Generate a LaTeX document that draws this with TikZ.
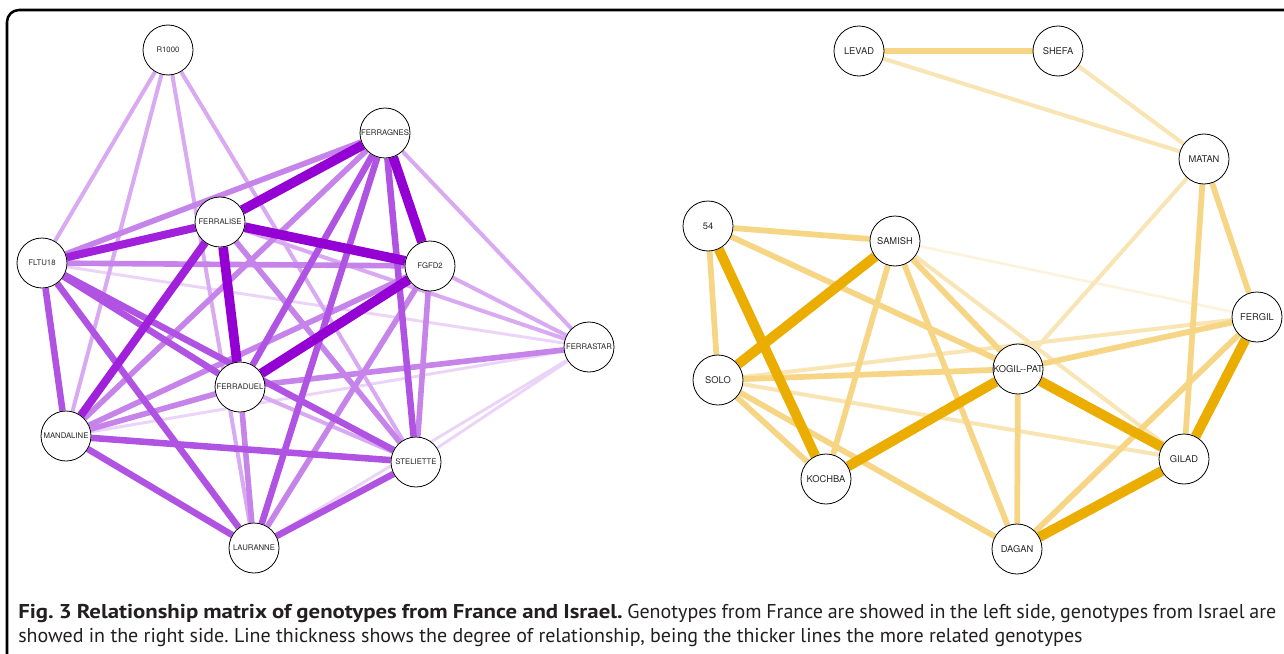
\documentclass[tikz,border=0pt]{standalone}
\usepackage{fontspec}
\setmainfont[BoldFeatures={FakeStretch=1.14}]{PT Sans}
\newfontfamily\genofont{TeX Gyre Heros}
\usetikzlibrary{backgrounds}
\definecolor{frA}{HTML}{9400D3}
\definecolor{frB}{HTML}{A020DC}
\definecolor{frC}{HTML}{B153E2}
\definecolor{frD}{HTML}{C683EA}
\definecolor{frE}{HTML}{D9AAF1}
\definecolor{frF}{HTML}{ECD3F8}
\definecolor{ilA}{HTML}{EBAD00}
\definecolor{ilB}{HTML}{F6D584}
\definecolor{ilC}{HTML}{F9E5B3}
\definecolor{ilD}{HTML}{FDF2DC}
\definecolor{captext}{HTML}{231F20}
\frenchspacing
\tikzset{
  geno/.style={circle,draw=black,line width=0.6pt,fill=white,minimum size=37.5pt,
    inner sep=0pt,text=black!85,font=\genofont\fontsize{5.8}{6}\selectfont},
  genoil/.style={geno,font=\genofont\fontsize{7}{7}\selectfont},
  lnA/.style={draw=frA,line width=7.2pt},
  lnB/.style={draw=frB,line width=6pt},
  lnC/.style={draw=frC,line width=4.9pt},
  lnD/.style={draw=frD,line width=4.2pt},
  lnE/.style={draw=frE,line width=3pt},
  lnF/.style={draw=frF,line width=2.2pt},
  lgA/.style={draw=ilA,line width=7.5pt},
  lgB/.style={draw=ilB,line width=4.3pt},
  lgC/.style={draw=ilC,line width=3pt},
  lgD/.style={draw=ilD,line width=1.9pt}
}
\begin{document}
\begin{tikzpicture}[x=0.75pt,y=-0.75pt]
  \useasboundingbox (0,0) rectangle (1284,653);
  \draw[line width=1.9pt,rounded corners=9pt] (7,10) rectangle (1310,680);
  % France
  \node[geno] (r1000) at (168,50) {R1000};
  \node[geno] (ferragnes) at (385,133) {FERRAGNES};
  \node[geno] (ferralise) at (220,222) {FERRALISE};
  \node[geno] (fltu18) at (42,263) {FLTU18};
  \node[geno] (fgfd2) at (430,266) {FGFD2};
  \node[geno] (ferrastar) at (589,347) {FERRASTAR};
  \node[geno] (ferraduel) at (240,387) {FERRADUEL};
  \node[geno] (mandaline) at (66,436) {MANDALINE};
  \node[geno] (steliette) at (416,462) {STELIETTE};
  \node[geno] (lauranne) at (254,548) {LAURANNE};
  % Israel
  \node[genoil] (levad) at (859,51) {LEVAD};
  \node[genoil] (shefa) at (1058,51) {SHEFA};
  \node[genoil] (matan) at (1204,159) {MATAN};
  \node[genoil] (n54) at (708,226) {54};
  \node[genoil] (samish) at (895,241) {SAMISH};
  \node[genoil] (fergil) at (1257,317) {FERGIL};
  \node[genoil] (solo) at (718,380) {SOLO};
  \node[genoil] (kogilpat) at (1018,369) {KOGIL--PAT};
  \node[genoil] (kochba) at (826,479) {KOCHBA};
  \node[genoil] (gilad) at (1184,459) {GILAD};
  \node[genoil] (dagan) at (1017,549) {DAGAN};
  \begin{scope}[on background layer]
    \fill[white] (0,0) rectangle (1284,653);
    % France, light to dark
    \draw[lnF] (fltu18) -- (ferrastar);
    \draw[lnF] (steliette) -- (ferrastar);
    \draw[lnF] (lauranne) -- (ferrastar);
    \draw[lnF] (mandaline) -- (ferrastar);
    \draw[lnE] (r1000) -- (fltu18);
    \draw[lnE] (r1000) -- (mandaline);
    \draw[lnE] (r1000) -- (lauranne);
    \draw[lnE] (r1000) -- (steliette);
    \draw[lnE] (ferragnes) -- (ferrastar);
    \draw[lnE] (fgfd2) -- (ferrastar);
    \draw[lnE] (ferralise) -- (ferrastar);
    \draw[lnE] (ferraduel) -- (steliette);
    \draw[lnD] (ferragnes) -- (fltu18);
    \draw[lnD] (ferragnes) -- (mandaline);
    \draw[lnD] (fltu18) -- (fgfd2);
    \draw[lnD] (mandaline) -- (fgfd2);
    \draw[lnD] (mandaline) -- (ferraduel);
    \draw[lnD] (fgfd2) -- (steliette);
    \draw[lnD] (fgfd2) -- (lauranne);
    \draw[lnD] (ferralise) -- (steliette);
    \draw[lnD] (ferraduel) -- (ferrastar);
    \draw[lnD] (ferraduel) -- (lauranne);
    \draw[lnC] (fltu18) -- (mandaline);
    \draw[lnC] (fltu18) -- (ferraduel);
    \draw[lnC] (fltu18) -- (steliette);
    \draw[lnC] (fltu18) -- (lauranne);
    \draw[lnC] (ferragnes) -- (ferraduel);
    \draw[lnC] (ferragnes) -- (lauranne);
    \draw[lnC] (ferragnes) -- (steliette);
    \draw[lnC] (mandaline) -- (steliette);
    \draw[lnC] (mandaline) -- (lauranne);
    \draw[lnC] (steliette) -- (lauranne);
    \draw[lnB] (ferralise) -- (fltu18);
    \draw[lnB] (ferralise) -- (mandaline);
    \draw[lnA] (ferralise) -- (ferraduel);
    \draw[lnA] (ferragnes) -- (ferralise);
    \draw[lnA] (ferragnes) -- (fgfd2);
    \draw[lnA] (ferralise) -- (fgfd2);
    \draw[lnA] (fgfd2) -- (ferraduel);
    % Israel, light to dark
    \draw[lgD] (samish) -- (fergil);
    \draw[lgC] (levad) -- (matan);
    \draw[lgC] (shefa) -- (matan);
    \draw[lgC] (matan) -- (kogilpat);
    \draw[lgC] (samish) -- (gilad);
    \draw[lgC] (solo) -- (gilad);
    \draw[lgC] (solo) -- (fergil);
    \draw[lgB,line width=5.2pt] (levad) -- (shefa);
    \draw[lgB] (n54) -- (samish);
    \draw[lgB] (n54) -- (solo);
    \draw[lgB] (n54) -- (kogilpat);
    \draw[lgB] (samish) -- (kochba);
    \draw[lgB] (samish) -- (dagan);
    \draw[lgB] (samish) -- (kogilpat);
    \draw[lgB] (solo) -- (kogilpat);
    \draw[lgB] (solo) -- (kochba);
    \draw[lgB] (solo) -- (dagan);
    \draw[lgB] (kogilpat) -- (fergil);
    \draw[lgB] (kogilpat) -- (dagan);
    \draw[lgB] (matan) -- (gilad);
    \draw[lgB] (matan) -- (fergil);
    \draw[lgB] (dagan) -- (fergil);
    \draw[lgA] (n54) -- (kochba);
    \draw[lgA] (samish) -- (solo);
    \draw[lgA] (kochba) -- (kogilpat);
    \draw[lgA] (kogilpat) -- (gilad);
    \draw[lgA] (gilad) -- (fergil);
    \draw[lgA] (gilad) -- (dagan);
  \end{scope}
  % caption
  \node[anchor=base west,inner sep=0pt,text=captext,font=\fontsize{15}{17}\selectfont] (capone) at (18,618)
    {\makebox[943.5pt][s]{\textbf{Fig. 3 Relationship matrix of genotypes from France and Israel.} Genotypes from France are showed in the left side, genotypes from Israel are}};
  \node[anchor=base west,inner sep=0pt,text=captext,font=\fontsize{15}{17}\selectfont] (captwo) at (18,642)
    {showed in the right side. Line thickness shows the degree of relationship, being the thicker lines the more related genotypes};
\end{tikzpicture}
\end{document}
